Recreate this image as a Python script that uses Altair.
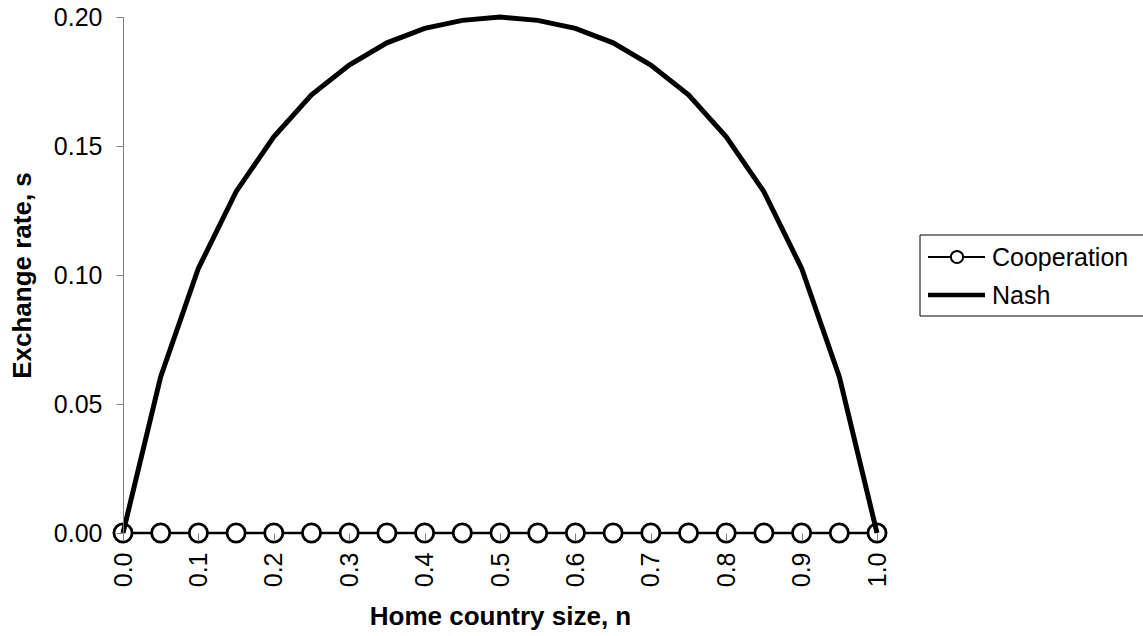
import altair as alt
import pandas as pd

# ---- data ----
n_values = [0.00, 0.05, 0.10, 0.15, 0.20, 0.25, 0.30, 0.35, 0.40, 0.45, 0.50,
            0.55, 0.60, 0.65, 0.70, 0.75, 0.80, 0.85, 0.90, 0.95, 1.00]
cooperation = [0.0] * 21
nash = [0.0, 0.0606, 0.1026, 0.1323, 0.1536, 0.1698, 0.1814, 0.1900, 0.1956, 0.1987, 0.2000,
        0.1987, 0.1956, 0.1900, 0.1814, 0.1698, 0.1536, 0.1323, 0.1026, 0.0606, 0.0]
x_ticks = [0.0, 0.1, 0.2, 0.3, 0.4, 0.5, 0.6, 0.7, 0.8, 0.9, 1.0]
y_ticks = [0.00, 0.05, 0.10, 0.15, 0.20]
legend_labels = ["Cooperation", "Nash"]

FONT = "Liberation Sans"
W, H = 754, 516

df = pd.DataFrame({"n": n_values, "Cooperation": cooperation, "Nash": nash})

x_enc = alt.X(
    "n:Q",
    scale=alt.Scale(domain=[0, 1], nice=False, zero=False),
    axis=alt.Axis(
        values=x_ticks, format=".1f", labelAngle=270, title="Home country size, n",
        domain=False, grid=False, tickSize=7, tickColor="#808080", tickWidth=1,
        labelPadding=12, titlePadding=17, labelFontSize=25, titleFontSize=26,
        labelFont=FONT, titleFont=FONT, titleFontWeight="bold",
        labelColor="black", titleColor="black", zindex=1,
    ),
)

y_axis = alt.Axis(
    values=y_ticks, format=".2f", title="Exchange rate, s",
    domain=True, domainColor="#808080", domainWidth=1, grid=False,
    tickSize=7, tickColor="#808080", tickWidth=1,
    labelPadding=14, titlePadding=18, labelFontSize=25, titleFontSize=26,
    labelFont=FONT, titleFont=FONT, titleFontWeight="bold",
    labelColor="black", titleColor="black", zindex=1,
)

base = alt.Chart(df)

coop_line = base.mark_line(color="black", strokeWidth=2.5, clip=False).encode(
    x=x_enc,
    y=alt.Y("Cooperation:Q", scale=alt.Scale(domain=[0, 0.2], nice=False), axis=y_axis),
)
coop_pts = base.mark_point(
    shape="circle", filled=True, fill="white", stroke="black", strokeWidth=2.8,
    size=330, opacity=1, clip=False,
).encode(x="n:Q", y="Cooperation:Q")
nash_line = base.mark_line(color="black", strokeWidth=5, clip=False).encode(
    x="n:Q", y="Nash:Q"
)

# ---- legend (drawn by hand, outside the plot area) ----
one = pd.DataFrame({"k": [0]})
lg_box = alt.Chart(one).mark_rect(fill="white", stroke="black", strokeWidth=1).encode(
    x=alt.value(797), x2=alt.value(1040), y=alt.value(218), y2=alt.value(299)
)
lg_coop_line = alt.Chart(one).mark_rule(color="black", strokeWidth=2).encode(
    x=alt.value(805), x2=alt.value(862), y=alt.value(240)
)
lg_coop_pt = alt.Chart(one).mark_point(
    shape="circle", filled=True, fill="white", stroke="black", strokeWidth=2, size=150, opacity=1
).encode(x=alt.value(834), y=alt.value(240))
lg_nash_line = alt.Chart(one).mark_rule(color="black", strokeWidth=4.5).encode(
    x=alt.value(805), x2=alt.value(862), y=alt.value(278)
)
lg_text1 = alt.Chart(one).mark_text(
    align="left", baseline="middle", font=FONT, fontSize=25, color="black"
).encode(x=alt.value(869), y=alt.value(241), text=alt.value(legend_labels[0]))
lg_text2 = alt.Chart(one).mark_text(
    align="left", baseline="middle", font=FONT, fontSize=25, color="black"
).encode(x=alt.value(869), y=alt.value(279), text=alt.value(legend_labels[1]))

chart = alt.layer(
    coop_line, coop_pts, nash_line,
    lg_box, lg_coop_line, lg_coop_pt, lg_nash_line, lg_text1, lg_text2,
).properties(
    width=W, height=H,
    autosize=alt.AutoSizeParams(type="none"),
    padding={"left": 123, "top": 17, "right": 266, "bottom": 103},
    background="white",
).configure_view(strokeWidth=0)

chart.save("out.html", embed_options={"renderer": "svg", "actions": False})
